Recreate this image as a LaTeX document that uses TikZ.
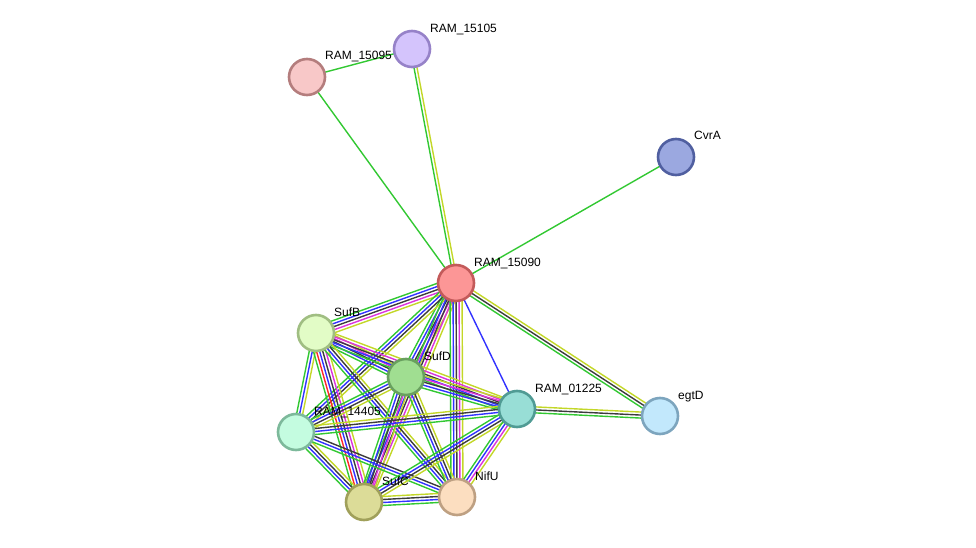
\documentclass[tikz,border=0pt]{standalone}
\usepackage{fontspec}
\setmainfont{Liberation Sans}
\usetikzlibrary{calc,backgrounds}
\definecolor{cgreen}{RGB}{50,200,50}
\definecolor{cred}{RGB}{255,40,40}
\definecolor{cblue}{RGB}{50,50,255}
\definecolor{cblack}{RGB}{60,60,60}
\definecolor{cmag}{RGB}{220,50,220}
\definecolor{cyel}{RGB}{195,215,40}
\tikzset{
  prot/.style={circle, minimum size=36pt, inner sep=0pt, line width=2.6pt},
  lab/.style={anchor=base west, font=\fontsize{12pt}{14pt}\selectfont, inner sep=0pt, text=black},
  evline/.style={line width=1.4pt},
}
\newcommand\sedge[3]{%
  \gdef\ncount{0}%
  \foreach \cc in {#3} {\xdef\ncount{\the\numexpr\ncount+1\relax}}%
  \foreach \cc [count=\ii] in {#3} {%
    \pgfmathsetmacro\off{(\ii-(\ncount+1)/2)*3.0}%
    \draw[evline, draw=\cc] ($(#1)!\off pt!90:(#2)$) -- ($(#2)!\off pt!-90:(#1)$);
  }%
}
\begin{document}
\begin{tikzpicture}[x=1pt,y=-1pt]
\useasboundingbox (0,0) rectangle (976,548);
% nodes
\node[prot, fill={rgb,255:red,252;green,150;blue,150}, draw={rgb,255:red,195;green,90;blue,90}] (n15090) at (456,283) {};
\node[prot, fill={rgb,255:red,248;green,200;blue,200}, draw={rgb,255:red,180;green,125;blue,125}] (n15095) at (307,77) {};
\node[prot, fill={rgb,255:red,212;green,196;blue,252}, draw={rgb,255:red,150;green,130;blue,200}] (n15105) at (412,49) {};
\node[prot, fill={rgb,255:red,155;green,168;blue,224}, draw={rgb,255:red,80;green,95;blue,160}] (cvra) at (676,157) {};
\node[prot, fill={rgb,255:red,226;green,252;blue,198}, draw={rgb,255:red,160;green,190;blue,130}] (sufb) at (316,333) {};
\node[prot, fill={rgb,255:red,160;green,222;blue,145}, draw={rgb,255:red,105;green,160;blue,95}] (sufd) at (406,377) {};
\node[prot, fill={rgb,255:red,196;green,252;blue,224}, draw={rgb,255:red,125;green,185;blue,155}] (n14405) at (296,432) {};
\node[prot, fill={rgb,255:red,152;green,222;blue,214}, draw={rgb,255:red,80;green,155;blue,148}] (n01225) at (517,409) {};
\node[prot, fill={rgb,255:red,194;green,232;blue,252}, draw={rgb,255:red,125;green,165;blue,190}] (egtd) at (660,416) {};
\node[prot, fill={rgb,255:red,220;green,220;blue,152}, draw={rgb,255:red,160;green,160;blue,90}] (sufc) at (364,502) {};
\node[prot, fill={rgb,255:red,252;green,222;blue,192}, draw={rgb,255:red,190;green,160;blue,130}] (nifu) at (457,497) {};
% edges
\begin{pgfonlayer}{background}
\sedge{n15095}{n15105}{cgreen}
\sedge{n15095}{n15090}{cgreen}
\sedge{n15105}{n15090}{cgreen,cyel}
\sedge{cvra}{n15090}{cgreen}
\sedge{n15090}{n01225}{cblue}
\sedge{n15090}{egtd}{cgreen,cblack,cyel}
\sedge{n01225}{egtd}{cgreen,cblack,cyel}
\sedge{n15090}{sufb}{cgreen,cblue,cblack,cmag,cyel}
\sedge{n15090}{sufd}{cgreen,cblue,cblack,cmag,cyel}
\sedge{n15090}{n14405}{cgreen,cblue,cblack,cyel}
\sedge{n15090}{sufc}{cgreen,cblue,cblack,cmag,cyel}
\sedge{n15090}{nifu}{cgreen,cblue,cblack,cmag,cyel}
\sedge{sufb}{sufd}{cgreen,cblue,cblack,cmag,cyel}
\sedge{sufb}{n01225}{cgreen,cblue,cblack,cmag,cyel}
\sedge{sufb}{n14405}{cgreen,cblue,cyel}
\sedge{sufb}{sufc}{cgreen,cred,cblue,cblack,cmag,cyel}
\sedge{sufb}{nifu}{cgreen,cblue,cblack,cyel}
\sedge{sufd}{n14405}{cgreen,cblue,cblack,cyel}
\sedge{sufd}{n01225}{cgreen,cblue,cblack,cmag,cyel}
\sedge{sufd}{sufc}{cgreen,cblue,cblack,cmag,cyel}
\sedge{sufd}{nifu}{cgreen,cblue,cblack,cyel}
\sedge{n14405}{n01225}{cgreen,cblue,cblack,cyel}
\sedge{n14405}{sufc}{cgreen,cblue,cblack,cyel}
\sedge{n14405}{nifu}{cgreen,cblue,cblack}
\sedge{n01225}{sufc}{cgreen,cblue,cblack,cyel}
\sedge{n01225}{nifu}{cgreen,cblue,cmag,cyel}
\sedge{sufc}{nifu}{cgreen,cblue,cblack,cyel}
\end{pgfonlayer}
% labels
\node[lab] (l15090) at ($(n15090)+(18,-17)$) {RAM\_15090};
\node[lab] (l15095) at ($(n15095)+(18,-17)$) {RAM\_15095};
\node[lab] (l15105) at ($(n15105)+(18,-16)$) {RAM\_15105};
\node[lab] (lcvra) at ($(cvra)+(18,-17)$) {CvrA};
\node[lab] (lsufb) at ($(sufb)+(18,-17)$) {SufB};
\node[lab] (lsufd) at ($(sufd)+(18,-17)$) {SufD};
\node[lab] (l14405) at ($(n14405)+(18,-17)$) {RAM\_14405};
\node[lab] (l01225) at ($(n01225)+(18,-17)$) {RAM\_01225};
\node[lab] (legtd) at ($(egtd)+(18,-17)$) {egtD};
\node[lab] (lsufc) at ($(sufc)+(18,-17)$) {SufC};
\node[lab] (lnifu) at ($(nifu)+(18,-17)$) {NifU};
\end{tikzpicture}
\end{document}
